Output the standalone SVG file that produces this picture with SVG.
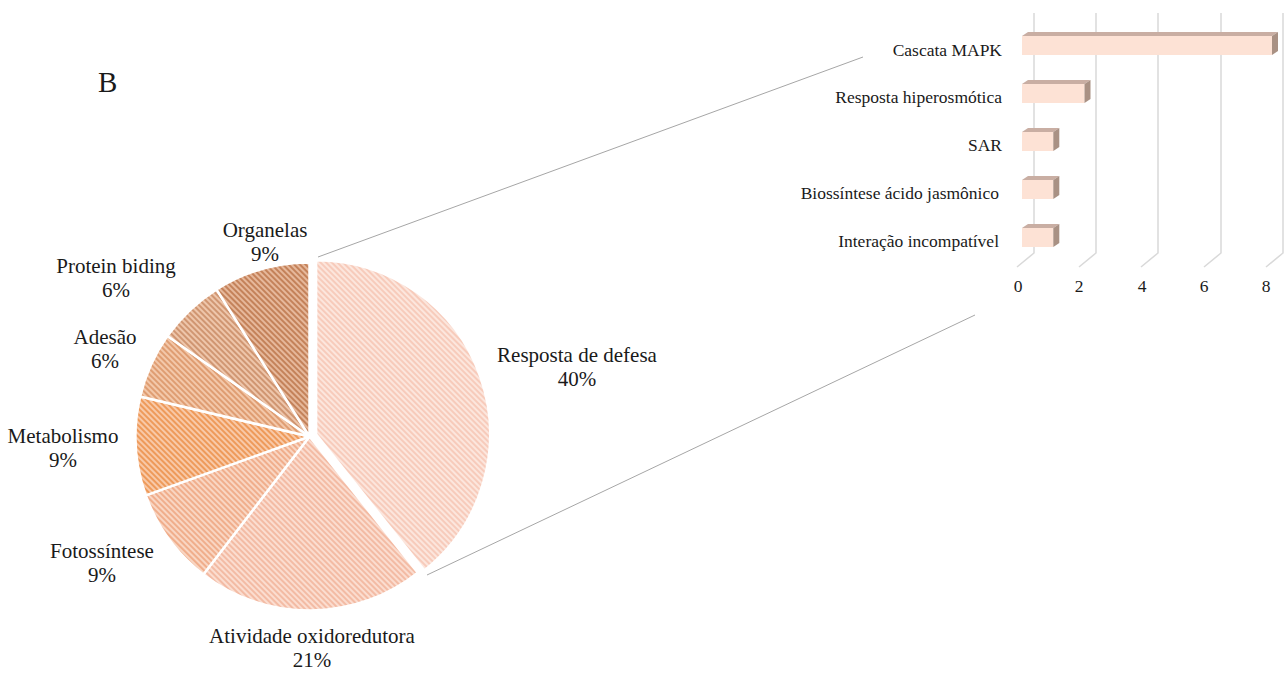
<svg xmlns="http://www.w3.org/2000/svg" width="1288" height="673" viewBox="0 0 1288 673">
<defs>
<style>
text{font-family:"Liberation Serif","Times New Roman",serif;fill:#1a1a1a}
.pl{font-size:21px;text-anchor:middle}
.bl{font-size:17.5px;text-anchor:end}
.ax{font-size:17.5px;text-anchor:middle}
.sl{stroke:#fff;stroke-width:2.5;stroke-linejoin:round}
.grid{stroke:#d9d9d9;stroke-width:1.5;fill:none}
.lead{stroke:#a6a6a6;stroke-width:1;fill:none}
.bf{fill:#fde2d5}
.bt{fill:#c9aea3}
.bs{fill:#a99184}
</style>
<pattern id="p1" width="4" height="4" patternUnits="userSpaceOnUse" patternTransform="rotate(-45)"><rect width="4" height="4" fill="#fce6dd"/><rect width="2" height="4" fill="#f7cbbb"/></pattern>
<pattern id="p2" width="4" height="4" patternUnits="userSpaceOnUse" patternTransform="rotate(-45)"><rect width="4" height="4" fill="#fbddd0"/><rect width="2" height="4" fill="#f3bba4"/></pattern>
<pattern id="p3" width="4" height="4" patternUnits="userSpaceOnUse" patternTransform="rotate(-45)"><rect width="4" height="4" fill="#f9d6c3"/><rect width="2" height="4" fill="#f0ae8c"/></pattern>
<pattern id="p4" width="4" height="4" patternUnits="userSpaceOnUse" patternTransform="rotate(-45)"><rect width="4" height="4" fill="#f8c9a8"/><rect width="2" height="4" fill="#ee9a5a"/></pattern>
<pattern id="p5" width="4" height="4" patternUnits="userSpaceOnUse" patternTransform="rotate(-45)"><rect width="4" height="4" fill="#f3c8aa"/><rect width="2" height="4" fill="#df9d72"/></pattern>
<pattern id="p6" width="4" height="4" patternUnits="userSpaceOnUse" patternTransform="rotate(-45)"><rect width="4" height="4" fill="#eec6ab"/><rect width="2" height="4" fill="#d09672"/></pattern>
<pattern id="p7" width="4" height="4" patternUnits="userSpaceOnUse" patternTransform="rotate(-45)"><rect width="4" height="4" fill="#e6b89b"/><rect width="2" height="4" fill="#c4825a"/></pattern>
</defs>
<rect width="1288" height="673" fill="#fff"/>

<text x="98" y="92" style="font-size:29px">B</text>

<g id="connectors">
<line class="lead" x1="318" y1="257" x2="863" y2="57"/>
<line class="lead" x1="427" y1="575" x2="975" y2="315"/>
</g>

<g id="pie">
<g id="slice-defesa"><path class="sl" fill="url(#p1)" d="M316.1,434.2 L316.1,260.2 A174,174 0 0 1 424.4,570.4 Z"/></g>
<g id="slice-oxido"><path class="sl" fill="url(#p2)" d="M309.5,436.5 L417.8,572.7 A174,174 0 0 1 203.3,574.4 Z"/></g>
<g id="slice-foto"><path class="sl" fill="url(#p3)" d="M309.5,436.5 L203.3,574.4 A174,174 0 0 1 145.8,495.4 Z"/></g>
<g id="slice-metab"><path class="sl" fill="url(#p4)" d="M309.5,436.5 L145.8,495.4 A174,174 0 0 1 140.2,396.5 Z"/></g>
<g id="slice-adesao"><path class="sl" fill="url(#p5)" d="M309.5,436.5 L140.2,396.5 A174,174 0 0 1 167.5,335.9 Z"/></g>
<g id="slice-protein"><path class="sl" fill="url(#p6)" d="M309.5,436.5 L167.5,335.9 A174,174 0 0 1 216.5,289.4 Z"/></g>
<g id="slice-organelas"><path class="sl" fill="url(#p7)" d="M309.5,436.5 L216.5,289.4 A174,174 0 0 1 309.5,262.5 Z"/></g>
</g>

<g id="pie-labels">
<g id="lbl-organelas"><text class="pl" x="265" y="237">Organelas</text><text class="pl" x="265" y="261">9%</text></g>
<g id="lbl-protein"><text class="pl" x="116" y="273">Protein biding</text><text class="pl" x="116" y="297">6%</text></g>
<g id="lbl-adesao"><text class="pl" x="105" y="344">Adesão</text><text class="pl" x="105" y="368">6%</text></g>
<g id="lbl-metab"><text class="pl" x="63" y="443">Metabolismo</text><text class="pl" x="63" y="467">9%</text></g>
<g id="lbl-foto"><text class="pl" x="102" y="558">Fotossíntese</text><text class="pl" x="102" y="582">9%</text></g>
<g id="lbl-oxido"><text class="pl" x="312" y="643">Atividade  oxidoredutora</text><text class="pl" x="312" y="667">21%</text></g>
<g id="lbl-defesa"><text class="pl" x="577" y="362">Resposta de defesa</text><text class="pl" x="577" y="386">40%</text></g>
</g>

<g id="bar-chart">
<g id="grid">
<path class="grid" d="M1034,13 V253 L1017,267"/>
<path class="grid" d="M1096,13 V253 L1079,267"/>
<path class="grid" d="M1158,13 V253 L1141,267"/>
<path class="grid" d="M1221,13 V253 L1204,267"/>
<path class="grid" d="M1283,13 V253 L1266,267"/>
</g>
<g id="bar-mapk">
<rect class="bf" x="1022" y="36" width="250" height="19"/>
<path class="bt" d="M1022,36 L1028,32 H1278 L1272,36 Z"/>
<path class="bs" d="M1272,36 L1278,32 V51 L1272,55 Z"/>
</g>
<g id="bar-hiper">
<rect class="bf" x="1022" y="84" width="62.5" height="19"/>
<path class="bt" d="M1022,84 L1028,80 H1090.5 L1084.5,84 Z"/>
<path class="bs" d="M1084.5,84 L1090.5,80 V99 L1084.5,103 Z"/>
</g>
<g id="bar-sar">
<rect class="bf" x="1022" y="132" width="31.3" height="19"/>
<path class="bt" d="M1022,132 L1028,128 H1059.3 L1053.3,132 Z"/>
<path class="bs" d="M1053.3,132 L1059.3,128 V147 L1053.3,151 Z"/>
</g>
<g id="bar-bio">
<rect class="bf" x="1022" y="180" width="31.3" height="19"/>
<path class="bt" d="M1022,180 L1028,176 H1059.3 L1053.3,180 Z"/>
<path class="bs" d="M1053.3,180 L1059.3,176 V195 L1053.3,199 Z"/>
</g>
<g id="bar-inter">
<rect class="bf" x="1022" y="228" width="31.3" height="19"/>
<path class="bt" d="M1022,228 L1028,224 H1059.3 L1053.3,228 Z"/>
<path class="bs" d="M1053.3,228 L1059.3,224 V243 L1053.3,247 Z"/>
</g>
<g id="bar-labels">
<text class="bl" x="1002" y="56">Cascata MAPK</text>
<text class="bl" x="1002" y="103">Resposta hiperosmótica</text>
<text class="bl" x="1002" y="151">SAR</text>
<text class="bl" x="999" y="199">Biossíntese ácido jasmônico</text>
<text class="bl" x="999" y="247">Interação incompatível</text>
</g>
<g id="axis">
<text class="ax" x="1018" y="292">0</text>
<text class="ax" x="1079" y="292">2</text>
<text class="ax" x="1142" y="292">4</text>
<text class="ax" x="1204" y="292">6</text>
<text class="ax" x="1266" y="292">8</text>
</g>
</g>
</svg>
